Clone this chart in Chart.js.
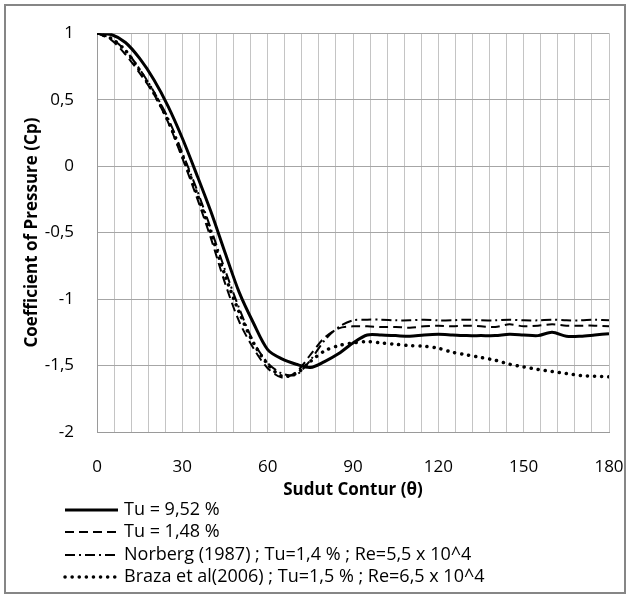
<!DOCTYPE html>
<html>
<head>
<meta charset="utf-8">
<script src="https://cdn.jsdelivr.net/npm/chart.js@4"></script>
<style>
  body { margin: 0; background: #fff; }
  #wrap { width: 630px; height: 600px; }
</style>
</head>
<body>
<div id="wrap"><canvas id="cpChart" width="630" height="600"></canvas></div>
<script>
  // angle around the cylinder (degrees)
  const theta = [0, 5, 10, 15, 20, 25, 30, 35, 40, 45, 50, 55, 60, 65, 70, 75, 80, 85, 90,
    95, 100, 105, 110, 115, 120, 125, 130, 135, 140, 145, 150, 155, 160, 165, 170, 175, 180];

  // pressure coefficient
  const cpTu952 = [1, 0.99, 0.93, 0.81, 0.65, 0.45, 0.21, -0.06, -0.34, -0.65, -0.95, -1.18, -1.38, -1.45, -1.49, -1.515, -1.47, -1.41, -1.33,
    -1.27, -1.27, -1.275, -1.28, -1.27, -1.265, -1.27, -1.275, -1.275, -1.275, -1.265, -1.27, -1.275, -1.25, -1.28, -1.28, -1.27, -1.26];
  const cpTu148 = [1, 0.95, 0.84, 0.70, 0.54, 0.33, 0.06, -0.23, -0.54, -0.88, -1.17, -1.37, -1.52, -1.59, -1.55, -1.42, -1.29, -1.22, -1.205,
    -1.205, -1.21, -1.21, -1.215, -1.205, -1.20, -1.205, -1.20, -1.205, -1.21, -1.19, -1.205, -1.20, -1.19, -1.20, -1.20, -1.20, -1.205];
  const cpNorberg = [1, 0.96, 0.87, 0.73, 0.56, 0.36, 0.10, -0.17, -0.47, -0.78, -1.07, -1.32, -1.48, -1.56, -1.57, -1.46, -1.31, -1.21, -1.16,
    -1.155, -1.155, -1.16, -1.16, -1.155, -1.16, -1.16, -1.155, -1.16, -1.16, -1.155, -1.16, -1.16, -1.155, -1.16, -1.16, -1.155, -1.16];
  const cpBraza = [1, 0.96, 0.87, 0.72, 0.55, 0.34, 0.08, -0.20, -0.50, -0.82, -1.10, -1.33, -1.49, -1.58, -1.56, -1.47, -1.39, -1.35, -1.33,
    -1.32, -1.33, -1.34, -1.35, -1.355, -1.37, -1.40, -1.42, -1.44, -1.46, -1.49, -1.51, -1.53, -1.545, -1.56, -1.575, -1.58, -1.585];

  const seriesNames = [
    'Tu = 9,52 %',
    'Tu = 1,48 %',
    'Norberg (1987) ; Tu=1,4 % ; Re=5,5 x 10^4',
    'Braza et al(2006) ; Tu=1,5 % ; Re=6,5 x 10^4'
  ];

  const toXY = (ys) => ys.map((y, i) => ({ x: theta[i], y: y }));
  const FONT = 'Open Sans';

  // outer frame + line legend under the plot
  const frameAndLegend = {
    id: 'frameAndLegend',
    beforeDraw(chart) {
      const c = chart.ctx;
      c.save();
      c.fillStyle = '#fff';
      c.fillRect(0, 0, chart.width, chart.height);
      c.strokeStyle = '#868686';
      c.lineWidth = 2;
      c.strokeRect(5, 5, 620, 588);
      c.restore();
    },
    afterDraw(chart) {
      const c = chart.ctx;
      const rows = [510, 532, 555, 577];
      c.save();
      c.font = '18px "' + FONT + '"';
      c.textBaseline = 'middle';
      chart.data.datasets.forEach((ds, i) => {
        const y = rows[i];
        c.beginPath();
        c.strokeStyle = '#000';
        c.lineWidth = ds.borderWidth;
        c.lineCap = ds.borderCapStyle || 'butt';
        c.setLineDash(ds.borderDash || []);
        c.moveTo(65, y);
        c.lineTo(118, y);
        c.stroke();
        c.setLineDash([]);
        c.fillStyle = '#000';
        c.fillText(ds.label, 124, y);
      });
      c.restore();
    }
  };

  const ctx = document.getElementById('cpChart').getContext('2d');
  const cpChart = new Chart(ctx, {
    type: 'line',
    data: {
      datasets: [
        { label: seriesNames[0], data: toXY(cpTu952), borderColor: '#000', borderWidth: 3, borderDash: [] },
        { label: seriesNames[1], data: toXY(cpTu148), borderColor: '#000', borderWidth: 2, borderDash: [9, 5] },
        { label: seriesNames[2], data: toXY(cpNorberg), borderColor: '#000', borderWidth: 2, borderDash: [10, 4, 2, 4] },
        { label: seriesNames[3], data: toXY(cpBraza), borderColor: '#000', borderWidth: 3.5, borderDash: [0.1, 7], borderCapStyle: 'round' }
      ]
    },
    options: {
      responsive: false,
      animation: false,
      elements: {
        point: { radius: 0 },
        line: { tension: 0.3, fill: false }
      },
      layout: { padding: { left: 0, right: 21, top: 27, bottom: 100 } },
      plugins: {
        legend: { display: false },
        tooltip: { enabled: false }
      },
      scales: {
        x: {
          type: 'linear',
          min: 0,
          max: 180,
          afterFit(scale) {
            scale.height = 68;
            scale.paddingLeft = 0;
            scale.paddingRight = 0;
          },
          ticks: {
            stepSize: 6,
            autoSkip: false,
            maxRotation: 0,
            padding: 25,
            color: '#000',
            font: { family: FONT, size: 17 },
            callback: (v) => (v % 30 === 0 ? v : '')
          },
          grid: { color: '#c4c4c4', lineWidth: 1, drawTicks: false },
          border: { color: '#9a9a9a' },
          title: {
            display: true,
            text: 'Sudut Contur (θ)',
            color: '#000',
            font: { family: FONT, size: 17, weight: 'bold' },
            padding: { top: 0, bottom: 0 }
          }
        },
        y: {
          min: -2,
          max: 1,
          afterFit(scale) { scale.width = 97; },
          ticks: {
            stepSize: 0.5,
            padding: 23,
            color: '#000',
            font: { family: FONT, size: 17 },
            callback: (v) => String(v).replace('.', ',')
          },
          grid: { color: '#a6a6a6', lineWidth: 1, drawTicks: false },
          border: { color: '#9a9a9a' },
          title: {
            display: true,
            text: 'Coefficient of Pressure (Cp)',
            color: '#000',
            font: { family: FONT, size: 17, weight: 'bold' },
            padding: { top: 22, bottom: 0 }
          }
        }
      }
    },
    plugins: [frameAndLegend]
  });
</script>
</body>
</html>
